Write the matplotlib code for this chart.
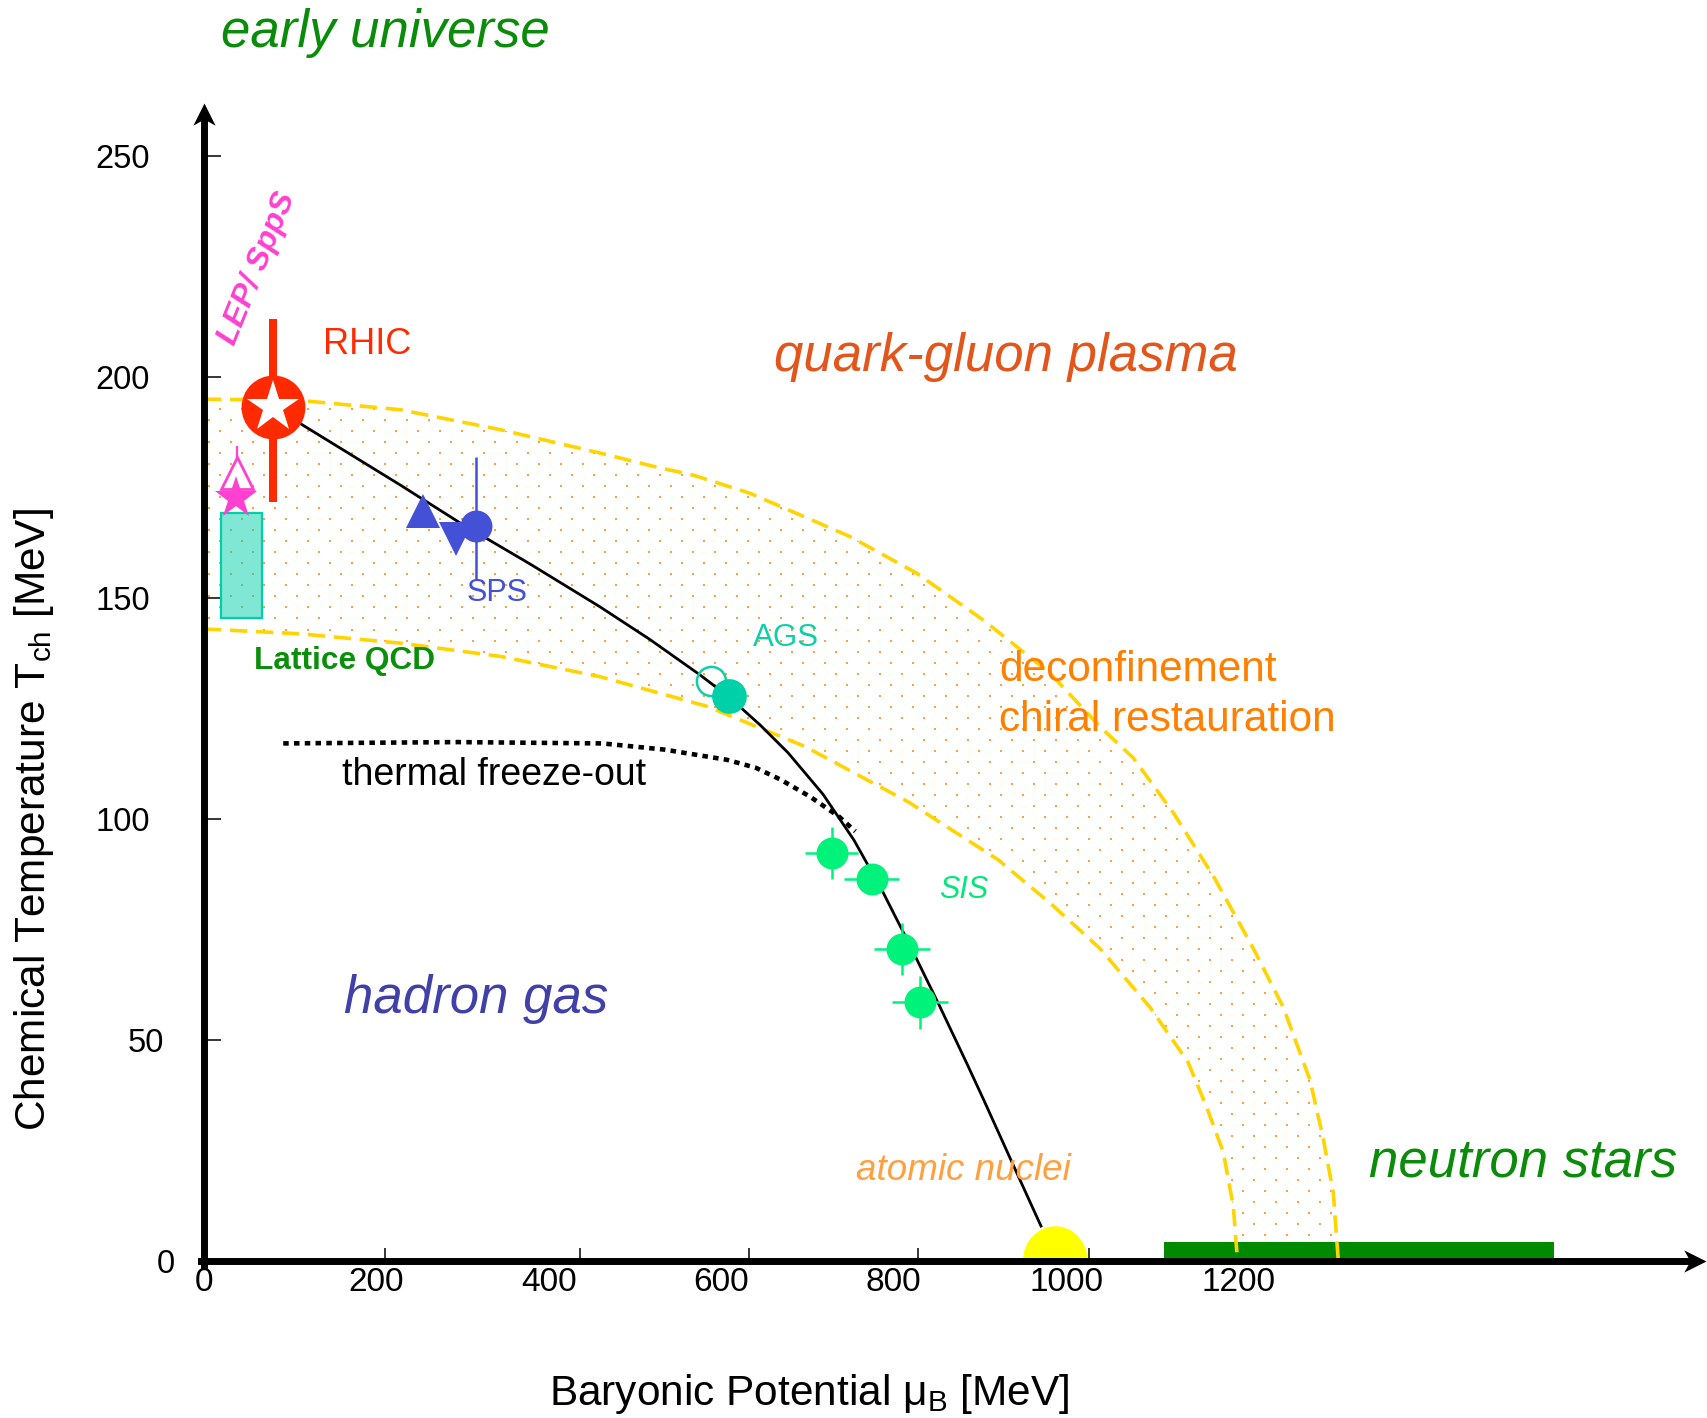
import numpy as np
import matplotlib
matplotlib.use("Agg")
import matplotlib.pyplot as plt
from matplotlib.path import Path
from matplotlib.patches import Polygon, Ellipse
from matplotlib.transforms import ScaledTranslation

plt.rcParams['font.family'] = ['Liberation Sans', 'DejaVu Sans']
plt.rcParams['mathtext.fontset'] = 'custom'
plt.rcParams['mathtext.rm'] = 'Liberation Sans'
plt.rcParams['mathtext.it'] = 'Liberation Sans:italic'
plt.rcParams['mathtext.bf'] = 'Liberation Sans:bold'

# ---------------- data (mu_B in MeV, T in MeV) ----------------
band_upper_mu = [0, 111.4, 227.4, 343.4, 459.4, 525.2, 567.6, 633.4, 749.4, 826.8, 904.1, 981.4,
                 1039.4, 1078.1, 1124.5, 1170.9, 1217.3, 1252.1, 1283.1, 1298.5, 1310.1, 1315.9]
band_upper_T = [195.0, 194.7, 192.6, 188.1, 182.8, 179.6, 177.8, 173.7, 163.9, 155.6, 145.0, 133.0,
                120.9, 113.8, 101.4, 87.1, 70.7, 57.4, 40.9, 27.6, 15.4, 0.0]
band_lower_mu = [0, 111.4, 227.4, 343.4, 459.4, 583.5, 697.2, 816.7, 921.1, 981.4, 1039.4,
                 1097.4, 1141.5, 1163.2, 1182.5, 1194.1, 1199.0]
band_lower_T = [143.0, 141.9, 139.8, 136.8, 132.2, 125.5, 116.4, 103.9, 90.8, 81.0, 70.7,
                57.4, 45.0, 34.8, 24.6, 12.3, 0.0]

chem_fo_mu = [79.7, 111.4, 227.4, 297.0, 378.2, 459.4, 517.4, 575.4, 609.0, 645.0, 677.5,
              718.1, 754.1, 786.5, 819.0, 852.1, 884.7, 904.9, 937.4, 971.0]
chem_fo_T = [193.3, 189.5, 175.6, 167.0, 157.7, 148.0, 140.6, 132.6, 127.6, 121.3, 115.0,
             105.6, 95.2, 83.9, 71.4, 58.2, 44.8, 36.3, 22.3, 7.9]

thermal_fo_mu = [91.9, 293.9, 462.2, 534.3, 606.5, 640.0, 669.0, 702.7, 736.3, 755.6]
thermal_fo_T = [117.1, 117.4, 117.1, 115.7, 113.4, 111.6, 108.9, 105.1, 100.6, 97.2]

rhic_mu, rhic_T = 79.7, 193.3
rhic_T_err = [21.6, 19.8]          # lower, upper

lep_tri_mu, lep_tri_T, lep_tri_err = 37.9, 178.3, 6.0
lep_star_mu, lep_star_T = 36.8, 172.6

sps_up_mu, sps_up_T = 253.5, 169.7
sps_down_mu, sps_down_T = 292.3, 163.4
sps_circ_mu, sps_circ_T = 315.5, 166.4
sps_circ_err = [12.4, 15.4]

ags_open_mu, ags_open_T = 588.2, 131.2
ags_full_mu, ags_full_T = 609.4, 127.9

sis_mu = [728.2, 774.6, 809.4, 830.6]
sis_T = [92.3, 86.4, 70.6, 58.5]
sis_mu_err = [31.0, 31.7, 32.5, 32.9]
sis_T_err = [5.9, 0.0, 5.9, 6.0]

lattice_mu = [19.4, 67.6]
lattice_T = [145.5, 169.2]

nuclei_mu, nuclei_halfwidth, nuclei_height = 987.6, 36.7, 7.7
nstar_mu = [1113.6, 1566.0]
nstar_T = 4.2

x_tick_values = [0, 200, 400, 600, 800, 1000, 1200]
x_tick_marks = [210, 436, 632, 828, 1027, 1222]
y_tick_values = [0, 50, 100, 150, 200, 250]

# ---------------- figure ----------------
W, H = 1708, 1418
fig = plt.figure(figsize=(W / 100, H / 100), dpi=100)
XMAX, YMAX = 1742, 262
px_per_mu, px_per_T = 0.862, 4.42
ax = fig.add_axes([204 / W, (H - 1261) / H, XMAX * px_per_mu / W, YMAX * px_per_T / H])
ax.set_xlim(0, XMAX)
ax.set_ylim(0, YMAX)
ax.patch.set_alpha(0)

for s in ['top', 'right']:
    ax.spines[s].set_visible(False)
for s in ['left', 'bottom']:
    ax.spines[s].set_linewidth(5)
    ax.spines[s].set_zorder(9)
ax.spines['bottom'].set_bounds(-4, XMAX - 20)
ax.spines['left'].set_bounds(-0.8, YMAX - 3.5)

# arrow heads
arrow_right = Path([(0, 0), (-1, 0.5), (-0.72, 0), (-1, -0.5), (0, 0)],
                   [Path.MOVETO, Path.LINETO, Path.LINETO, Path.LINETO, Path.CLOSEPOLY])
arrow_up = Path([(0, 0), (-0.5, -1), (0, -0.72), (0.5, -1), (0, 0)],
                [Path.MOVETO, Path.LINETO, Path.LINETO, Path.LINETO, Path.CLOSEPOLY])
ax.plot([1], [0], marker=arrow_right, ms=32, color='k', mew=0,
        transform=ax.transAxes, clip_on=False, zorder=10)
ax.plot([0], [1], marker=arrow_up, ms=32, color='k', mew=0,
        transform=ax.transAxes, clip_on=False, zorder=10)

# ticks
ax.set_xticks(x_tick_marks)
ax.set_xticklabels([])
ax.set_xticks(x_tick_values, [str(v) for v in x_tick_values], minor=True)
ax.tick_params(axis='x', which='major', direction='in', length=9.5, width=1.1)
ax.tick_params(axis='x', which='minor', length=0, pad=4.0, labelsize=24)
ax.set_yticks(y_tick_values, [str(v) for v in y_tick_values])
ax.tick_params(axis='y', direction='in', length=12, width=1.1, pad=39, labelsize=23.5)
# the hand-drawn original puts the "0" and "50" labels further right
for tick, dx in zip(ax.yaxis.get_major_ticks(), [25, 14, 0, 0, 0, 0]):
    lab = tick.label1
    lab.set_transform(lab.get_transform() + ScaledTranslation(dx / 100, 0, fig.dpi_scale_trans))

# ---------------- band (deconfinement region) ----------------
band_poly = np.column_stack([band_upper_mu + band_lower_mu[::-1],
                             band_upper_T + band_lower_T[::-1]])
band_patch = Polygon(band_poly, closed=True, facecolor='none', edgecolor='none')
ax.add_patch(band_patch)

dot_dx, dot_dy = 25.52, 2.489
rows = np.arange(1.0, 200, dot_dy)
dx_list, dy_list = [], []
for i, t in enumerate(rows):
    off = 0 if i % 2 == 0 else dot_dx / 2
    xs = np.arange(-20 + off, 1340, dot_dx)
    dx_list.extend(xs)
    dy_list.extend([t] * len(xs))
dots = ax.scatter(dx_list, dy_list, marker='s', s=4.6, c='#FFA040', linewidths=0, zorder=1)
dots.set_clip_path(band_patch)

ax.plot(band_upper_mu, band_upper_T, color='#FFD400', lw=2.6, ls=(0, (4.8, 2.4)), zorder=3)
ax.plot(band_lower_mu, band_lower_T, color='#FFD400', lw=2.6, ls=(0, (4.8, 2.4)), zorder=3)

# Lattice QCD box (semi-transparent, over the dots)
ax.bar(lattice_mu[0], lattice_T[1] - lattice_T[0], width=lattice_mu[1] - lattice_mu[0],
       bottom=lattice_T[0], align='edge', color=(0.0, 0.816, 0.66, 0.5),
       edgecolor='#00D0A8', linewidth=1.6, zorder=2)

# neutron stars bar & atomic nuclei half disk
ax.bar(nstar_mu[0], nstar_T, width=nstar_mu[1] - nstar_mu[0], bottom=0, align='edge',
       color='#008A00', zorder=2)
ax.add_patch(Ellipse((nuclei_mu, 0), width=2 * nuclei_halfwidth, height=2 * nuclei_height,
                     color='#FFFF00', zorder=2))

# freeze-out curves
ax.plot(chem_fo_mu, chem_fo_T, color='k', lw=2.0, zorder=4, solid_joinstyle='round')
ax.plot(thermal_fo_mu, thermal_fo_T, color='k', lw=3.3, ls=(0, (1.2, 1.15)), zorder=4)

# RHIC
ax.errorbar([rhic_mu], [rhic_T], yerr=[[rhic_T_err[0]], [rhic_T_err[1]]], fmt='none',
            ecolor='#FF2A00', elinewidth=5.8, capsize=0, zorder=5)
ax.plot([rhic_mu], [rhic_T], 'o', ms=46, color='#FF2A00', mew=0, zorder=6)
ax.plot([rhic_mu], [rhic_T], '*', ms=39, color='white', mew=0, zorder=7)

# LEP / SppS
ax.errorbar([lep_tri_mu], [lep_tri_T], yerr=[[0], [lep_tri_err]], fmt='none',
            ecolor='#FF40D0', elinewidth=1.6, capsize=0, zorder=5)
ax.plot([lep_tri_mu], [lep_tri_T], '^', ms=23, mfc='white', mec='#FF40D0', mew=2.0, zorder=6)
ax.plot([lep_star_mu], [lep_star_T], '*', ms=32, color='#FF40D0', mew=0, zorder=7)

# SPS
ax.errorbar([sps_circ_mu], [sps_circ_T], yerr=[[sps_circ_err[0]], [sps_circ_err[1]]],
            fmt='none', ecolor='#4450D5', elinewidth=1.8, capsize=0, zorder=5)
ax.plot([sps_up_mu], [sps_up_T], '^', ms=24, color='#4450D5', mew=0, zorder=6)
ax.plot([sps_down_mu], [sps_down_T], 'v', ms=24, color='#4450D5', mew=0, zorder=6)
ax.plot([sps_circ_mu], [sps_circ_T], 'o', ms=23, color='#4450D5', mew=0, zorder=6)

# AGS
ax.plot([ags_open_mu], [ags_open_T], 'o', ms=21, mfc='none', mec='#10CFA8', mew=1.8, zorder=6)
ax.plot([ags_full_mu], [ags_full_T], 'o', ms=25, color='#00D0A8', mew=0, zorder=6)

# SIS
ax.errorbar(sis_mu, sis_T, xerr=sis_mu_err, yerr=sis_T_err, fmt='o', ms=23,
            color='#00F27A', mew=0, elinewidth=1.8, capsize=0, zorder=6)

# ---------------- texts ----------------
tx = dict(va='baseline', ha='left', zorder=8)
ax.text(19.7, 274.6, 'early universe', color='#0A8C0A', fontsize=38, style='italic',
        clip_on=False, **tx)
ax.text(661.3, 201.4, 'quark-gluon plasma', color='#E2561C', fontsize=38, style='italic', **tx)
ax.text(1351.5, 19.1, 'neutron stars', color='#0A8C0A', fontsize=38, style='italic',
        clip_on=False, **tx)
ax.text(162.4, 56.2, 'hadron gas', color='#4040A8', fontsize=38, style='italic', **tx)
ax.text(922.3, 131.2, 'deconfinement', color='#FF8000', fontsize=30.5, **tx)
ax.text(922.3, 119.9, 'chiral restauration', color='#FF8000', fontsize=30.5, **tx)
ax.text(138.4, 205.2, 'RHIC', color='#FF2A00', fontsize=26, **tx)
ax.text(304.7, 149.4, 'SPS', color='#4450D5', fontsize=22, **tx)
ax.text(637.3, 139.1, 'AGS', color='#10CFA8', fontsize=22.5, **tx)
ax.text(58.0, 133.9, 'Lattice QCD', color='#0A8F0A', fontsize=22.8, weight='bold', **tx)
ax.text(160.1, 107.7, 'thermal freeze-out', color='black', fontsize=27, **tx)
ax.text(853.4, 82.1, 'SIS', color='#00E878', fontsize=22, style='italic', **tx)
ax.text(756.4, 18.3, 'atomic nuclei', color='#FFA040', fontsize=26.5, style='italic', **tx)
ax.text(62.0, 224.5, 'LEP/ SppS', color='#FF40D0', fontsize=23, style='italic',
        weight='bold', rotation=68, rotation_mode='anchor', ha='center', va='center', zorder=8)

fig.text(809 / W, (H - 1405) / H, 'Baryonic Potential μ$_\\mathrm{B}$ [MeV]',
         ha='center', va='baseline', fontsize=30.5)
fig.text(34 / W, 1 - 820 / H, 'Chemical Temperature T$_\\mathrm{ch}$ [MeV]',
         rotation=90, ha='center', va='center', fontsize=30.5)

fig.savefig('out.png', dpi=100)
